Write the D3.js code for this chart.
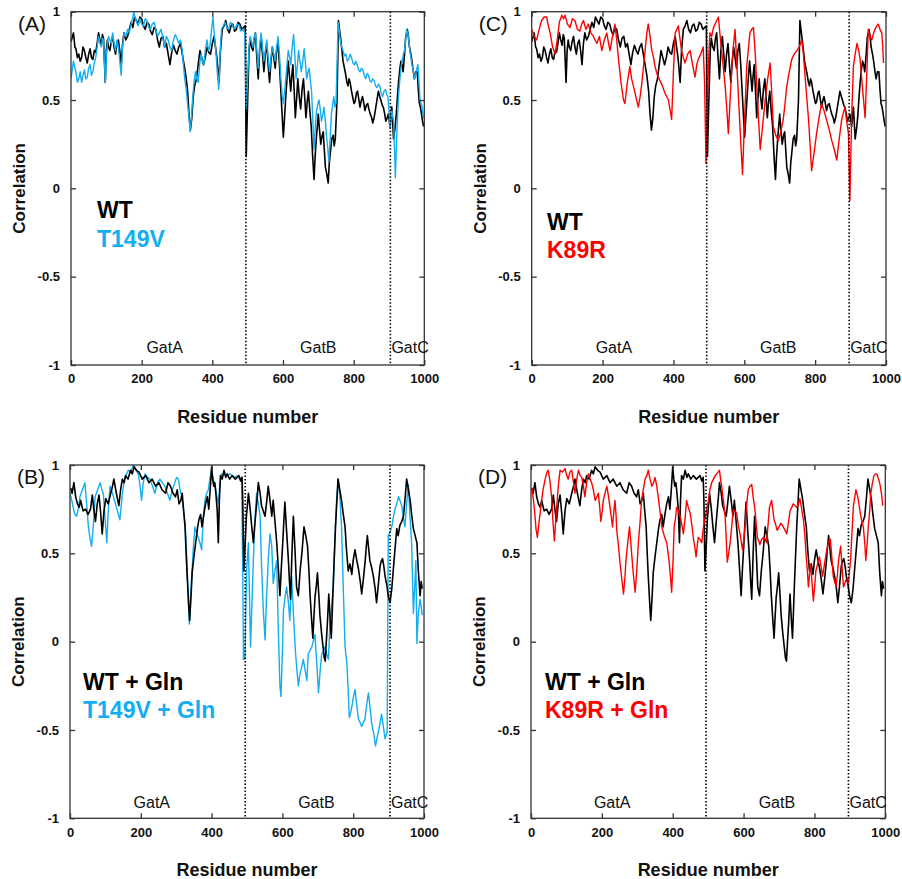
<!DOCTYPE html>
<html><head><meta charset="utf-8">
<script src="https://cdn.jsdelivr.net/npm/d3@7/dist/d3.min.js"></script>
<style>body{margin:0;background:#fff}</style>
</head><body>
<svg id="chart" width="902" height="879"></svg>
<script>
// ---------- data: [residue, correlation] ----------
const wtSeries = [[0,.83],[4,.86],[7,.88],[11,.80],[14,.79],[18,.74],[22,.76],[26,.72],[30,.74],[34,.80],[38,.78],[42,.74],[46,.71],[50,.76],[54,.79],[58,.74],[62,.73],[66,.78],[70,.77],[74,.82],[78,.88],[82,.84],[86,.81],[89,.87],[92,.85],[97,.60],[100,.78],[103,.84],[106,.80],[110,.78],[114,.83],[118,.86],[122,.80],[126,.76],[130,.82],[134,.84],[138,.78],[142,.70],[146,.82],[150,.88],[155,.84],[160,.86],[165,.90],[170,.94],[175,.91],[180,.97],[185,.95],[190,.93],[195,.97],[200,.96],[205,.92],[210,.90],[215,.94],[220,.93],[225,.89],[230,.87],[235,.91],[240,.90],[245,.84],[250,.80],[255,.85],[260,.86],[265,.80],[270,.82],[275,.76],[280,.70],[285,.77],[290,.81],[295,.78],[300,.76],[305,.80],[310,.82],[315,.76],[320,.70],[325,.64],[330,.55],[334,.42],[338,.33],[342,.40],[346,.52],[350,.58],[355,.62],[360,.70],[365,.78],[370,.74],[375,.70],[380,.74],[385,.80],[390,.77],[395,.76],[400,.82],[405,.86],[409,.80],[413,.74],[419,.60],[423,.78],[428,.90],[433,.92],[438,.95],[443,.90],[448,.88],[453,.92],[458,.93],[463,.89],[468,.90],[473,.94],[478,.93],[483,.90],[488,.91],[493,.92],[496,.18],[500,.50],[504,.78],[507,.85],[511,.80],[515,.78],[518,.84],[522,.88],[526,.74],[530,.62],[534,.78],[538,.86],[542,.76],[546,.66],[550,.76],[554,.82],[558,.70],[562,.60],[566,.72],[570,.80],[574,.74],[578,.68],[582,.78],[586,.82],[590,.70],[594,.55],[598,.40],[601,.29],[605,.42],[608,.52],[612,.64],[615,.72],[619,.62],[622,.55],[625,.64],[628,.70],[632,.54],[635,.40],[639,.52],[642,.62],[646,.52],[650,.45],[654,.56],[658,.62],[662,.50],[665,.40],[669,.50],[672,.55],[676,.44],[680,.35],[684,.18],[688,.05],[691,.18],[695,.30],[700,.42],[703,.34],[707,.25],[711,.30],[714,.32],[717,.22],[720,.12],[724,.08],[728,.03],[731,.14],[735,.22],[738,.28],[742,.30],[745,.24],[748,.28],[753,.50],[757,.95],[760,.90],[763,.85],[767,.78],[770,.72],[774,.68],[777,.65],[781,.60],[784,.58],[787,.62],[790,.60],[794,.55],[797,.52],[801,.48],[804,.49],[808,.54],[811,.55],[815,.50],[818,.46],[822,.50],[825,.52],[829,.48],[832,.44],[836,.47],[840,.48],[843,.45],[847,.42],[851,.40],[854,.37],[858,.40],[862,.45],[866,.50],[870,.55],[874,.52],[877,.50],[881,.47],[884,.46],[888,.42],[891,.38],[895,.40],[898,.42],[903,.35],[908,.46],[913,.28],[917,.34],[920,.40],[924,.52],[927,.60],[931,.68],[934,.72],[937,.70],[940,.66],[944,.76],[947,.85],[952,.90],[955,.86],[958,.80],[962,.76],[965,.72],[969,.66],[972,.62],[976,.66],[980,.66],[983,.56],[986,.48],[989,.46],[992,.42],[995,.38],[998,.35]];

const t149vSeries = [[0,.62],[4,.68],[7,.72],[11,.68],[14,.66],[18,.60],[22,.62],[26,.66],[30,.60],[34,.64],[38,.67],[42,.62],[46,.63],[50,.68],[54,.70],[58,.64],[62,.66],[66,.71],[70,.74],[74,.80],[78,.86],[82,.82],[86,.80],[89,.85],[92,.84],[97,.60],[100,.74],[103,.82],[106,.86],[110,.84],[114,.82],[118,.88],[122,.82],[126,.78],[130,.84],[134,.80],[138,.72],[142,.64],[146,.80],[150,.88],[155,.86],[160,.90],[165,.88],[170,.93],[174,.96],[178,1.0],[182,.96],[186,.94],[190,.92],[195,.96],[200,.93],[205,.92],[210,.96],[215,.95],[220,.91],[225,.90],[230,.93],[235,.94],[240,.90],[245,.86],[250,.88],[255,.90],[260,.85],[265,.80],[270,.86],[275,.84],[280,.80],[285,.78],[290,.84],[295,.87],[300,.85],[305,.82],[310,.84],[315,.78],[318,.70],[322,.62],[326,.56],[330,.48],[334,.40],[337,.32],[341,.40],[344,.50],[348,.60],[352,.66],[356,.62],[360,.60],[364,.70],[368,.76],[372,.72],[376,.70],[380,.78],[385,.84],[389,.78],[393,.80],[398,.90],[402,.97],[406,.86],[410,.78],[414,.66],[418,.56],[422,.76],[426,.90],[431,.92],[436,.94],[441,.91],[446,.90],[451,.94],[456,.93],[461,.90],[466,.91],[471,.93],[476,.92],[481,.89],[486,.90],[492,.88],[496,.45],[500,.62],[504,.80],[507,.86],[511,.83],[515,.80],[518,.85],[522,.88],[526,.78],[530,.68],[534,.80],[538,.88],[542,.80],[546,.72],[550,.78],[554,.84],[558,.74],[562,.66],[566,.74],[570,.80],[574,.76],[578,.72],[582,.80],[586,.86],[590,.76],[594,.62],[598,.52],[601,.48],[605,.56],[608,.62],[612,.72],[615,.78],[619,.74],[622,.70],[626,.80],[630,.87],[634,.74],[637,.62],[641,.70],[644,.78],[648,.72],[652,.66],[656,.72],[660,.79],[664,.70],[667,.62],[671,.66],[674,.68],[678,.60],[681,.55],[685,.36],[688,.22],[691,.34],[695,.44],[699,.48],[702,.50],[706,.44],[709,.38],[713,.42],[716,.46],[720,.38],[723,.30],[727,.22],[730,.15],[734,.30],[737,.42],[741,.48],[744,.52],[747,.46],[750,.48],[753,.70],[756,.94],[759,.90],[762,.84],[766,.80],[770,.78],[774,.75],[778,.76],[782,.72],[786,.73],[790,.76],[794,.74],[798,.71],[802,.70],[806,.72],[810,.70],[814,.67],[818,.66],[822,.68],[826,.67],[830,.64],[834,.62],[838,.65],[842,.64],[846,.61],[850,.60],[854,.62],[858,.61],[862,.58],[866,.57],[870,.59],[874,.58],[878,.54],[882,.52],[886,.55],[890,.56],[894,.53],[897,.52],[900,.44],[903,.34],[906,.40],[908,.44],[911,.40],[913,.38],[916,.20],[918,.06],[921,.24],[924,.40],[927,.52],[930,.60],[934,.68],[937,.72],[941,.76],[944,.78],[947,.84],[950,.90],[953,.88],[956,.84],[959,.78],[962,.74],[965,.70],[968,.68],[972,.62],[975,.64],[979,.68],[982,.70],[985,.60],[988,.50],[991,.48],[994,.46],[996,.42],[998,.40]];

const k89rSeries = [[0,.90],[7,.86],[14,.84],[21,.90],[28,.95],[35,.97],[42,.97],[47,.92],[52,.88],[59,.80],[66,.76],[72,.84],[78,.94],[85,.98],[90,.96],[94,.98],[101,.93],[108,.91],[115,.96],[122,.95],[129,.90],[136,.89],[141,.93],[146,.95],[153,.90],[160,.93],[167,.88],[174,.86],[179,.84],[184,.82],[191,.86],[198,.78],[205,.84],[212,.88],[217,.82],[221,.78],[228,.86],[235,.93],[240,.84],[245,.73],[252,.60],[259,.50],[263,.48],[270,.60],[277,.69],[282,.62],[287,.58],[294,.52],[301,.46],[306,.52],[310,.58],[315,.68],[320,.78],[325,.88],[329,.93],[334,.86],[339,.78],[344,.74],[348,.69],[355,.64],[362,.61],[369,.58],[376,.54],[381,.52],[386,.50],[391,.44],[395,.39],[400,.66],[405,.88],[410,.90],[414,.92],[419,.84],[423,.78],[428,.74],[433,.71],[440,.76],[447,.78],[454,.70],[461,.63],[466,.70],[470,.73],[477,.76],[484,.80],[488,.60],[492,.14],[496,.50],[500,.76],[503,.88],[508,.86],[513,.91],[520,.94],[527,.97],[531,.88],[536,.78],[541,.68],[546,.58],[551,.44],[555,.31],[560,.50],[565,.69],[569,.80],[574,.90],[578,.74],[583,.54],[589,.30],[595,.08],[601,.40],[607,.69],[612,.80],[616,.88],[621,.90],[626,.91],[631,.76],[635,.59],[640,.40],[645,.22],[652,.36],[659,.50],[666,.62],[673,.71],[678,.52],[682,.35],[689,.30],[696,.27],[703,.32],[710,.39],[715,.48],[720,.58],[727,.66],[734,.73],[741,.76],[748,.78],[755,.80],[762,.84],[767,.76],[771,.65],[776,.52],[781,.40],[786,.24],[790,.10],[797,.20],[804,.31],[811,.40],[818,.48],[825,.44],[832,.39],[840,.33],[847,.27],[854,.22],[861,.16],[868,.28],[875,.39],[880,.43],[884,.46],[889,.38],[894,.31],[898,-.07],[903,.40],[908,.69],[913,.76],[918,.82],[923,.78],[927,.73],[934,.56],[941,.40],[946,.66],[950,.90],[955,.86],[960,.84],[965,.88],[969,.90],[974,.92],[978,.93],[983,.90],[988,.88],[991,.80],[993,.71]];

const wtGlnSeries = [[2,.87],[6,.84],[11,.90],[16,.82],[21,.78],[26,.76],[30,.80],[37,.74],[44,.75],[51,.72],[58,.75],[63,.83],[68,.74],[72,.68],[77,.78],[82,.83],[87,.72],[91,.61],[96,.74],[101,.81],[108,.78],[115,.84],[120,.88],[124,.92],[131,.84],[138,.77],[143,.86],[148,.92],[153,.90],[157,.94],[164,.92],[171,.97],[176,.95],[181,.99],[188,.97],[195,.96],[204,.92],[214,.94],[223,.90],[232,.92],[242,.88],[251,.90],[260,.86],[270,.84],[277,.90],[284,.88],[291,.84],[298,.82],[303,.86],[308,.78],[313,.80],[317,.84],[321,.74],[325,.65],[328,.50],[331,.37],[335,.22],[338,.12],[342,.26],[345,.39],[350,.48],[355,.56],[360,.64],[364,.69],[369,.72],[373,.65],[378,.72],[383,.78],[388,.82],[392,.75],[396,.86],[400,.99],[403,.92],[406,.88],[409,.90],[412,.84],[416,.74],[419,.56],[422,.80],[425,.94],[430,.92],[435,.97],[440,.93],[444,.95],[451,.92],[458,.94],[467,.92],[477,.94],[482,.91],[486,.93],[488,.80],[491,.40],[495,.56],[498,.70],[504,.84],[509,.75],[513,.66],[518,.56],[522,.66],[525,.73],[529,.82],[532,.90],[537,.84],[541,.77],[546,.74],[551,.71],[556,.80],[560,.88],[565,.80],[570,.71],[574,.80],[579,.68],[584,.56],[589,.40],[593,.26],[597,.42],[601,.56],[604,.68],[607,.79],[612,.62],[617,.46],[620,.34],[623,.24],[627,.50],[631,.71],[636,.50],[640,.31],[645,.26],[650,.40],[655,.50],[661,.65],[666,.60],[671,.54],[675,.40],[678,.27],[682,.14],[686,.02],[689,.14],[692,.25],[696,.32],[699,.39],[703,.26],[706,.15],[711,.04],[716,-.05],[718,-.09],[721,-.11],[724,0],[727,.10],[731,.27],[735,.12],[738,.02],[741,.18],[744,.35],[747,.50],[750,.65],[754,.80],[757,.92],[762,.86],[767,.80],[772,.72],[777,.65],[781,.52],[786,.40],[791,.44],[796,.38],[800,.46],[805,.52],[810,.46],[815,.41],[820,.34],[824,.27],[829,.36],[834,.46],[837,.54],[840,.60],[844,.52],[847,.46],[852,.42],[857,.37],[862,.30],[866,.22],[871,.32],[876,.43],[880,.46],[883,.47],[887,.42],[890,.37],[895,.32],[899,.26],[904,.22],[909,.30],[913,.40],[918,.52],[923,.64],[927,.60],[932,.66],[937,.68],[942,.71],[947,.82],[951,.92],[956,.86],[961,.80],[965,.72],[970,.64],[975,.60],[980,.56],[984,.40],[989,.26],[992,.34],[995,.30]];

const t149vGlnSeries = [[0,.84],[5,.80],[9,.76],[14,.72],[19,.71],[24,.76],[28,.82],[35,.86],[42,.90],[47,.78],[52,.65],[57,.58],[61,.54],[66,.66],[71,.82],[78,.86],[85,.90],[90,.86],[94,.84],[99,.70],[104,.56],[108,.74],[113,.88],[120,.84],[127,.79],[134,.74],[141,.69],[148,.84],[155,.93],[160,.95],[165,.97],[172,.96],[179,1.0],[186,.97],[193,.95],[198,.88],[202,.80],[207,.90],[212,.95],[219,.93],[226,.92],[233,.88],[240,.84],[247,.90],[254,.92],[261,.90],[268,.88],[275,.84],[282,.80],[289,.86],[296,.90],[301,.93],[306,.92],[311,.86],[316,.82],[320,.76],[325,.67],[328,.56],[331,.42],[334,.24],[337,.10],[340,.24],[344,.37],[348,.52],[353,.65],[357,.62],[362,.59],[367,.56],[372,.52],[376,.68],[381,.80],[386,.84],[391,.86],[395,.92],[400,.97],[405,.92],[410,.88],[415,.82],[419,.78],[423,.88],[428,.95],[440,.94],[452,.95],[463,.93],[475,.94],[480,.92],[485,.93],[488,.40],[490,-.10],[494,-.10],[497,.20],[499,.41],[504,.56],[507,.26],[510,-.03],[514,.22],[518,.46],[522,.68],[527,.84],[532,.78],[537,.71],[541,.44],[546,.18],[551,.01],[555,.24],[560,.46],[565,.61],[570,.54],[574,.33],[579,.40],[584,.46],[588,.10],[593,-.25],[596,-.31],[600,-.06],[603,.18],[608,.26],[612,.31],[617,.22],[621,.12],[626,.37],[631,.16],[636,-.03],[640,-.14],[645,-.25],[650,-.18],[655,-.14],[659,-.10],[664,-.16],[669,-.22],[673,-.07],[678,-.05],[683,-.03],[687,0],[692,.04],[697,-.12],[702,-.29],[706,-.18],[711,-.07],[716,-.05],[720,-.03],[725,-.07],[730,-.10],[734,.09],[739,.20],[744,.31],[748,.56],[753,.80],[758,.92],[763,.80],[767,.65],[772,.30],[777,-.03],[782,-.12],[786,-.28],[789,-.43],[793,-.40],[796,-.37],[800,-.32],[805,-.27],[810,-.36],[815,-.44],[820,-.46],[824,-.48],[828,-.46],[833,-.44],[838,-.36],[843,-.29],[848,-.38],[852,-.46],[858,-.52],[863,-.59],[867,-.55],[871,-.51],[876,-.46],[880,-.41],[885,-.48],[890,-.55],[893,-.53],[896,-.51],[899,.60],[904,.62],[909,.65],[913,.70],[918,.75],[923,.78],[928,.82],[932,.80],[937,.77],[942,.70],[946,.65],[951,.78],[956,.89],[960,.72],[965,.56],[968,.32],[970,.16],[974,.32],[977,.46],[980,-.01],[984,.16],[989,.24],[992,.20],[995,.15]];

const k89rGlnSeries = [[2,.87],[7,.80],[11,.72],[14,.64],[18,.59],[23,.68],[27,.75],[34,.86],[40,.92],[45,.96],[49,.97],[54,.90],[58,.82],[62,.68],[66,.57],[69,.66],[72,.75],[77,.88],[82,.97],[89,.96],[96,.98],[101,.94],[105,.92],[110,.96],[115,.97],[120,.90],[124,.84],[129,.92],[134,.97],[139,.94],[143,.93],[148,.88],[152,.82],[157,.90],[162,.95],[167,.92],[171,.90],[176,.86],[181,.80],[186,.82],[190,.84],[194,.76],[197,.68],[201,.74],[204,.80],[209,.84],[214,.88],[219,.82],[223,.76],[227,.70],[230,.65],[234,.74],[237,.80],[240,.72],[242,.63],[247,.54],[251,.45],[256,.36],[261,.27],[265,.36],[268,.46],[273,.56],[278,.65],[281,.58],[284,.50],[289,.38],[294,.28],[299,.42],[303,.56],[308,.68],[312,.80],[317,.86],[322,.92],[327,.94],[331,.97],[336,.92],[341,.88],[346,.90],[350,.93],[355,.88],[359,.82],[364,.74],[369,.65],[376,.60],[383,.56],[387,.50],[390,.45],[394,.36],[397,.28],[401,.46],[404,.65],[408,.70],[411,.76],[416,.74],[421,.71],[426,.66],[430,.61],[435,.70],[439,.80],[444,.76],[449,.73],[454,.66],[458,.59],[462,.54],[466,.48],[469,.54],[472,.59],[477,.58],[482,.56],[485,.62],[488,.67],[492,.70],[496,.75],[501,.80],[505,.86],[510,.90],[515,.92],[520,.94],[524,.95],[528,.96],[532,.97],[535,.92],[538,.88],[543,.80],[548,.71],[551,.58],[554,.45],[558,.50],[562,.56],[567,.66],[571,.75],[575,.74],[580,.73],[585,.66],[590,.61],[594,.56],[597,.52],[601,.58],[604,.65],[608,.76],[613,.86],[618,.88],[623,.89],[627,.82],[632,.75],[636,.66],[639,.59],[643,.57],[646,.55],[651,.58],[656,.59],[661,.58],[665,.56],[669,.66],[673,.76],[676,.78],[679,.80],[683,.74],[686,.69],[691,.66],[695,.63],[700,.65],[705,.67],[709,.66],[712,.65],[717,.63],[722,.61],[727,.68],[731,.74],[736,.76],[740,.78],[745,.77],[750,.76],[755,.78],[759,.81],[764,.75],[769,.69],[773,.60],[776,.50],[780,.40],[783,.31],[786,.38],[789,.44],[793,.34],[797,.23],[801,.32],[804,.40],[809,.44],[814,.48],[819,.42],[823,.37],[827,.42],[830,.46],[835,.52],[839,.56],[842,.57],[845,.58],[849,.48],[853,.37],[857,.34],[861,.31],[865,.38],[868,.46],[871,.50],[874,.54],[878,.42],[882,.31],[886,.33],[889,.35],[893,.34],[896,.33],[899,.40],[902,.46],[906,.62],[910,.77],[914,.82],[917,.86],[921,.83],[924,.80],[927,.76],[930,.72],[934,.68],[938,.65],[942,.56],[945,.46],[949,.56],[952,.65],[956,.74],[959,.84],[964,.90],[968,.94],[972,.95],[976,.95],[981,.92],[985,.89],[989,.84],[993,.77]];

const xTickValues = [0, 200, 400, 600, 800, 1000];
const yTickValues = [-1, -0.5, 0, 0.5, 1];
const yTickLabels = ["-1", "-0.5", "0", "0.5", "1"];
const regionNames = ["GatA", "GatB", "GatC"];
const boundsAB = [495, 904];
const boundsCD = [494, 896];

// ---------- layout ----------
const CYAN = "#12aef0", RED = "#ff0000", BLACK = "#000";
const FONT = "'Liberation Sans', Arial, Helvetica, sans-serif";
const panels = [
  {tag:"(A)", left:71, top:11.7, w:353.3, h:353.3, base:wtSeries, mut:t149vSeries, color:CYAN,
   names:["WT","T149V"], bounds:boundsAB, regionAt:[265,700], legX:97, legY:[218,247], blackTop:false, gatY:353},
  {tag:"(B)", left:70, top:465, w:354, h:353.3, base:wtGlnSeries, mut:t149vGlnSeries, color:CYAN,
   names:["WT + Gln","T149V + Gln"], bounds:boundsAB, regionAt:[231,696], legX:83, legY:[690,718], blackTop:true, gatY:808},
  {tag:"(C)", left:531.7, top:11.7, w:354.3, h:353.3, base:wtSeries, mut:k89rSeries, color:RED,
   names:["WT","K89R"], bounds:boundsCD, regionAt:[232,696], legX:547, legY:[230,258], blackTop:false, gatY:353},
  {tag:"(D)", left:531, top:465, w:354.3, h:353.3, base:wtGlnSeries, mut:k89rGlnSeries, color:RED,
   names:["WT + Gln","K89R + Gln"], bounds:boundsCD, regionAt:[229,694], legX:545, legY:[690,718], blackTop:false, gatY:808}
];

const svg = d3.select("#chart").style("font-family", FONT);
svg.append("rect").attr("width", 902).attr("height", 879).attr("fill", "#fff");

panels.forEach((p, i) => {
  const x = d3.scaleLinear().domain([0, 1000]).range([p.left, p.left + p.w]);
  const y = d3.scaleLinear().domain([-1, 1]).range([p.top + p.h, p.top]);
  const g = svg.append("g");
  const clipId = "clip" + i;
  svg.append("clipPath").attr("id", clipId).append("rect")
    .attr("x", p.left).attr("y", p.top).attr("width", p.w).attr("height", p.h);

  const line = d3.line().x(d => x(d[0])).y(d => y(d[1]));
  const plot = g.append("g").attr("clip-path", `url(#${clipId})`);
  const drawBase = () => plot.append("path").datum(p.base).attr("d", line)
      .attr("fill", "none").attr("stroke", BLACK).attr("stroke-width", 1.6).attr("stroke-linejoin", "round");
  const drawMut = () => plot.append("path").datum(p.mut).attr("d", line)
      .attr("fill", "none").attr("stroke", p.color).attr("stroke-width", 1.4).attr("stroke-linejoin", "round");
  if (p.blackTop) { drawMut(); drawBase(); } else { drawBase(); drawMut(); }

  // dotted domain boundaries
  g.selectAll("line.bound").data(p.bounds).join("line").attr("class", "bound")
    .attr("x1", d => x(d)).attr("x2", d => x(d)).attr("y1", p.top).attr("y2", p.top + p.h)
    .attr("stroke", "#000").attr("stroke-width", 1.6).attr("stroke-dasharray", "1.6,1.9");

  // frame
  g.append("rect").attr("x", p.left).attr("y", p.top).attr("width", p.w).attr("height", p.h)
    .attr("fill", "none").attr("stroke", "#333").attr("stroke-width", 1.3);

  // axes (ticks inward, mirrored)
  const axB = d3.axisBottom(x).tickValues(xTickValues).tickSize(-5).tickFormat(d => d).tickPadding(9);
  const axT = d3.axisTop(x).tickValues(xTickValues).tickSize(-5).tickFormat("");
  const axL = d3.axisLeft(y).tickValues(yTickValues).tickSize(-5).tickPadding(11)
    .tickFormat((d, k) => yTickLabels[k]);
  const axR = d3.axisRight(y).tickValues(yTickValues).tickSize(-5).tickFormat("");
  [[axB, `translate(0,${p.top + p.h})`], [axT, `translate(0,${p.top})`],
   [axL, `translate(${p.left},0)`], [axR, `translate(${p.left + p.w},0)`]].forEach(([ax, tr]) => {
    const a = g.append("g").attr("transform", tr).call(ax);
    a.select(".domain").remove();
    a.selectAll(".tick line").attr("stroke", "#333").attr("stroke-width", 1.3);
    a.selectAll(".tick text").attr("font-family", FONT).attr("font-weight", "bold").attr("fill", "#111");
  });
  g.selectAll(".tick text").attr("font-size", 13);

  // region labels
  g.append("text").text(regionNames[0]).attr("x", x(p.regionAt[0])).attr("y", p.gatY)
    .attr("text-anchor", "middle").attr("font-size", 16).attr("fill", "#111");
  g.append("text").text(regionNames[1]).attr("x", x(p.regionAt[1])).attr("y", p.gatY)
    .attr("text-anchor", "middle").attr("font-size", 16).attr("fill", "#111");
  g.append("text").text(regionNames[2]).attr("x", x(p.bounds[1]) + 1).attr("y", p.gatY)
    .attr("text-anchor", "start").attr("font-size", 16).attr("fill", "#111");

  // panel tag
  g.append("text").text(p.tag).attr("x", p.left - 53).attr("y", p.top + 19)
    .attr("font-size", 21).attr("fill", "#111");

  // axis titles
  g.append("text").text("Residue number").attr("x", p.left + p.w / 2).attr("y", p.top + p.h + 58)
    .attr("text-anchor", "middle").attr("font-size", 18).attr("font-weight", "bold").attr("fill", "#111");
  g.append("text").text("Correlation")
    .attr("transform", `translate(${p.left - 46},${p.top + p.h / 2}) rotate(-90)`)
    .attr("text-anchor", "middle").attr("font-size", 17).attr("font-weight", "bold").attr("fill", "#111");

  // legend
  g.append("text").text(p.names[0]).attr("x", p.legX).attr("y", p.legY[0])
    .attr("font-size", 23).attr("font-weight", "bold").attr("fill", "#000");
  g.append("text").text(p.names[1]).attr("x", p.legX).attr("y", p.legY[1])
    .attr("font-size", 23).attr("font-weight", "bold").attr("fill", p.color);
});
</script>
</body></html>
